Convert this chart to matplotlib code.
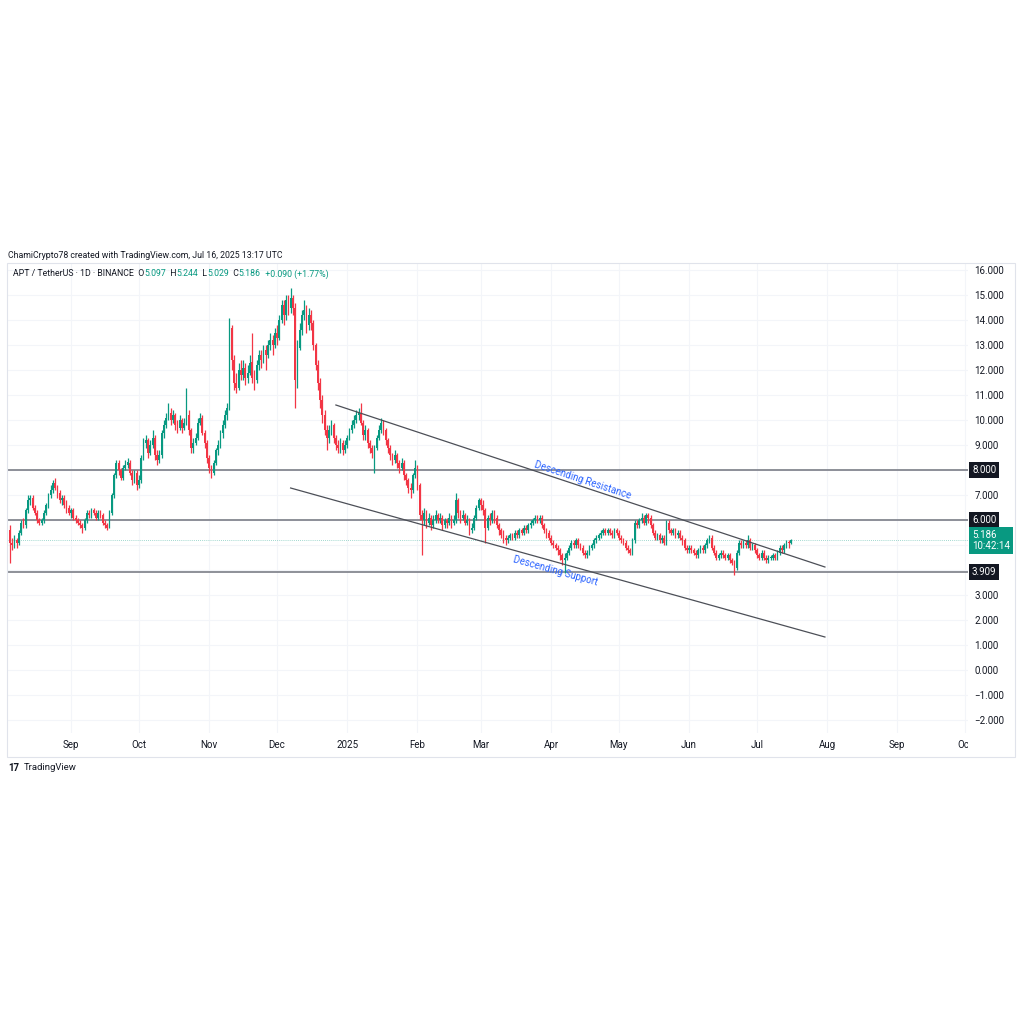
import numpy as np
import matplotlib.pyplot as plt
import matplotlib.dates as mdates
from matplotlib.patches import Rectangle
from matplotlib.ticker import FuncFormatter

plt.rcParams['font.family'] = ['Roboto', 'DejaVu Sans']

# ------------------------------- dados -------------------------------
first_day = '2024-08-05'
last_day = '2025-07-16'
first_open = 5.6

closes = [
    5.1, 5.0, 5.2, 5.1, 5.5, 5.9, 5.8, 6.4, 6.8, 6.9, 6.5, 6.3, 6.0, 5.9, 6.0, 6.3, 6.6, 7.0, 7.2, 7.5, 7.3, 7.1, 6.8, 6.9, 6.6, 6.5, 6.3,  # ago
    6.4, 6.1, 6.0, 5.9, 5.8, 5.7, 6.0, 6.3, 6.2, 6.4, 6.3, 6.1, 6.3, 6.2, 5.9, 5.8, 5.7, 6.3, 7.0, 7.8, 8.3, 8.0, 7.7, 8.1, 8.2, 8.3, 7.9, 7.6, 7.9, 7.4,  # set
    7.6, 8.5, 9.1, 9.2, 8.7, 9.0, 9.3, 8.6, 8.4, 8.6, 9.5, 9.8, 10.1, 10.3, 10.0, 10.2, 9.8, 9.7, 10.0, 9.7, 9.9, 10.2, 9.6, 8.9, 9.1, 9.3, 9.9, 10.1, 9.5, 9.1, 8.5,  # out
    8.1, 7.9, 8.3, 8.8, 9.0, 9.5, 9.8, 10.2, 10.5, 13.7, 12.4, 11.5, 11.3, 12.0, 11.8, 12.1, 11.7, 11.9, 12.3, 11.7, 11.6, 12.2, 12.6, 12.4, 12.8, 12.6, 13.0, 13.2, 13.0, 13.5,  # nov
    13.3, 14.0, 14.6, 14.2, 14.8, 14.5, 14.9, 14.5, 11.6, 12.9, 13.6, 14.2, 14.4, 13.8, 14.2, 13.9, 13.0, 12.2, 11.5, 10.8, 10.2, 9.6, 9.3, 9.6, 9.8, 9.3, 9.0, 8.9, 9.1, 8.8, 9.0,  # dez
    9.3, 9.6, 9.8, 10.0, 10.2, 10.3, 9.9, 9.4, 9.6, 9.1, 8.9, 8.7, 8.9, 9.3, 9.6, 9.9, 9.6, 9.2, 8.9, 8.6, 8.4, 8.6, 8.3, 8.1, 8.3, 7.8, 7.6, 7.3, 7.2, 7.8, 8.1,  # jan
    7.4, 6.2, 6.0, 6.3, 5.9, 6.1, 5.8, 6.0, 6.2, 6.0, 6.1, 5.8, 6.0, 5.9, 6.1, 5.9, 6.0, 6.8, 6.3, 6.1, 6.2, 5.9, 6.0, 5.6, 5.7, 6.1, 6.5, 6.8,  # fev
    6.6, 6.4, 5.7, 6.1, 6.0, 6.3, 6.1, 5.8, 5.6, 5.4, 5.3, 5.2, 5.3, 5.4, 5.3, 5.5, 5.4, 5.6, 5.5, 5.7, 5.6, 5.8, 5.9, 6.0, 6.1, 6.0, 6.1, 5.8, 5.6, 5.5, 5.3,  # mar
    5.1, 5.0, 4.9, 4.8, 4.6, 4.4, 4.5, 4.7, 4.9, 5.1, 5.0, 5.2, 5.0, 4.9, 4.7, 4.6, 4.7, 4.9, 5.0, 5.2, 5.3, 5.4, 5.5, 5.6, 5.5, 5.6, 5.5, 5.4, 5.6, 5.5,  # abr
    5.3, 5.2, 5.1, 4.9, 4.8, 4.7, 5.2, 5.9, 5.8, 6.0, 6.1, 5.9, 6.2, 6.1, 5.8, 5.5, 5.3, 5.4, 5.2, 5.3, 5.1, 5.9, 5.6, 5.5, 5.6, 5.4, 5.5, 5.3, 5.2, 4.9, 4.8,  # mai
    4.9, 4.8, 4.7, 4.6, 4.8, 4.9, 4.8, 5.0, 5.2, 5.3, 4.9, 4.7, 4.5, 4.6, 4.7, 4.6, 4.5, 4.6, 4.4, 4.3, 4.1, 4.7, 5.1, 5.0, 5.1, 5.0, 5.2, 4.9, 5.0, 4.8,  # jun
    4.6, 4.5, 4.7, 4.5, 4.4, 4.5, 4.5, 4.6, 4.5, 4.7, 4.9, 4.8, 5.0, 5.1, 5.097, 5.186,  # jul
]
highs = [
    5.8, 5.3, 5.4, 5.3, 5.6, 6.0, 6.1, 6.5, 7.0, 7.0, 7.0, 6.6, 6.4, 6.1, 6.1, 6.4, 6.7, 7.1, 7.4, 7.6, 7.7, 7.4, 7.2, 7.0, 7.0, 6.8, 6.6,
    6.5, 6.5, 6.2, 6.1, 6.0, 5.9, 6.1, 6.4, 6.4, 6.5, 6.5, 6.4, 6.4, 6.4, 6.3, 6.0, 5.9, 6.4, 7.1, 7.9, 8.4, 8.4, 8.1, 8.2, 8.4, 8.5, 8.4, 8.0, 8.0, 8.0,
    7.8, 8.6, 9.3, 9.4, 9.3, 9.2, 9.6, 9.4, 8.8, 8.8, 9.6, 10.0, 10.3, 10.7, 10.5, 10.4, 10.3, 10.0, 10.2, 10.1, 10.1, 11.3, 10.4, 9.7, 9.3, 9.5, 10.1, 10.3, 10.2, 9.6, 9.2,
    8.6, 8.2, 8.4, 8.9, 9.2, 9.6, 10.0, 10.4, 10.7, 14.1, 13.8, 12.6, 11.9, 12.3, 12.4, 12.4, 12.3, 12.2, 12.6, 13.5, 12.0, 12.4, 12.8, 12.8, 13.0, 13.0, 13.2, 13.5, 13.4, 13.7,
    13.8, 14.2, 14.8, 14.8, 15.0, 15.0, 15.3, 15.0, 14.7, 13.2, 13.9, 14.4, 14.8, 14.6, 14.5, 14.4, 14.0, 13.1, 12.4, 11.7, 11.0, 10.4, 9.8, 9.8, 10.0, 9.9, 9.4, 9.2, 9.3, 9.2, 9.2,
    9.4, 9.7, 10.0, 10.2, 10.4, 10.5, 10.7, 10.0, 9.8, 9.7, 9.2, 9.0, 9.0, 9.4, 9.8, 10.1, 10.0, 9.7, 9.3, 9.0, 8.7, 8.8, 8.7, 8.4, 8.5, 8.4, 7.9, 7.7, 7.5, 7.9, 8.4,
    8.2, 7.5, 6.4, 6.5, 6.4, 6.3, 6.2, 6.2, 6.4, 6.3, 6.3, 6.2, 6.1, 6.1, 6.3, 6.2, 6.2, 7.1, 6.9, 6.4, 6.4, 6.3, 6.2, 6.1, 5.9, 6.2, 6.6, 6.9,
    6.9, 6.8, 6.5, 6.2, 6.3, 6.4, 6.4, 6.2, 5.9, 5.7, 5.6, 5.4, 5.4, 5.5, 5.5, 5.6, 5.6, 5.7, 5.7, 5.8, 5.8, 5.9, 6.0, 6.1, 6.2, 6.2, 6.2, 6.2, 5.9, 5.7, 5.6,
    5.4, 5.2, 5.1, 5.0, 4.9, 4.7, 4.7, 4.8, 5.0, 5.2, 5.2, 5.3, 5.3, 5.1, 5.0, 4.8, 4.8, 5.0, 5.1, 5.3, 5.4, 5.5, 5.6, 5.7, 5.7, 5.7, 5.7, 5.6, 5.7, 5.7,
    5.6, 5.4, 5.3, 5.2, 5.0, 4.9, 5.3, 6.0, 6.0, 6.1, 6.3, 6.2, 6.3, 6.3, 6.2, 5.9, 5.6, 5.5, 5.5, 5.4, 5.4, 6.0, 6.0, 5.7, 5.7, 5.7, 5.6, 5.6, 5.4, 5.3, 5.0,
    5.0, 5.0, 4.9, 4.8, 4.9, 5.0, 5.0, 5.1, 5.3, 5.4, 5.4, 5.0, 4.8, 4.7, 4.8, 4.8, 4.7, 4.7, 4.7, 4.5, 4.4, 4.8, 5.2, 5.2, 5.2, 5.2, 5.4, 5.3, 5.1, 5.1,
    4.9, 4.7, 4.8, 4.8, 4.6, 4.6, 4.6, 4.7, 4.7, 4.8, 5.0, 5.0, 5.1, 5.2, 5.2, 5.244,
]
lows = [
    4.3, 4.8, 4.9, 4.9, 5.0, 5.4, 5.7, 5.7, 6.3, 6.6, 6.4, 6.2, 5.9, 5.8, 5.8, 5.9, 6.2, 6.5, 6.9, 7.1, 7.2, 6.9, 6.7, 6.6, 6.5, 6.3, 6.2,
    6.1, 6.0, 5.9, 5.8, 5.7, 5.5, 5.6, 5.9, 6.1, 6.1, 6.2, 6.0, 6.0, 6.1, 5.8, 5.7, 5.6, 5.7, 6.2, 6.9, 7.7, 7.8, 7.6, 7.6, 8.0, 8.1, 7.8, 7.4, 7.5, 7.2,
    7.3, 7.5, 8.4, 8.9, 8.5, 8.6, 8.9, 8.4, 8.2, 8.3, 8.5, 9.3, 9.7, 10.0, 9.8, 9.9, 9.6, 9.5, 9.6, 9.5, 9.6, 9.8, 9.4, 8.7, 8.7, 9.0, 9.2, 9.8, 9.4, 8.9, 8.3,
    7.9, 7.7, 7.8, 8.2, 8.6, 8.9, 9.3, 9.7, 10.0, 10.4, 12.0, 11.2, 11.1, 11.2, 11.6, 11.6, 11.4, 11.5, 11.8, 11.5, 11.2, 11.5, 12.0, 12.1, 12.3, 12.0, 12.5, 12.8, 12.6, 12.9,
    13.0, 13.2, 13.9, 13.8, 14.0, 14.2, 14.3, 14.2, 10.5, 11.3, 12.8, 13.4, 14.0, 13.5, 13.6, 13.6, 12.8, 12.0, 11.2, 10.5, 9.9, 9.4, 8.8, 9.1, 9.4, 9.1, 8.8, 8.7, 8.7, 8.6, 8.7,
    8.9, 9.2, 9.5, 9.7, 9.9, 10.0, 9.8, 9.2, 9.2, 8.9, 8.7, 8.5, 7.9, 8.8, 9.2, 9.5, 9.4, 9.0, 8.7, 8.4, 8.2, 8.3, 8.1, 7.9, 8.0, 7.6, 7.4, 7.1, 6.9, 7.1, 7.7,
    7.2, 6.0, 4.6, 5.8, 5.7, 5.8, 5.6, 5.7, 5.9, 5.9, 5.9, 5.6, 5.7, 5.7, 5.8, 5.7, 5.8, 5.9, 6.1, 5.9, 6.0, 5.8, 5.8, 5.4, 5.5, 5.6, 6.0, 6.4,
    6.4, 6.2, 5.1, 5.6, 5.8, 5.9, 5.9, 5.7, 5.4, 5.3, 5.1, 5.0, 5.1, 5.2, 5.2, 5.2, 5.3, 5.3, 5.4, 5.4, 5.5, 5.5, 5.7, 5.8, 5.9, 5.9, 5.9, 5.7, 5.5, 5.3, 5.2,
    5.0, 4.9, 4.8, 4.6, 4.4, 4.2, 3.9, 4.4, 4.6, 4.8, 4.9, 4.9, 4.9, 4.8, 4.6, 4.5, 4.5, 4.6, 4.8, 4.9, 5.1, 5.2, 5.3, 5.4, 5.4, 5.4, 5.4, 5.3, 5.3, 5.4,
    5.2, 5.1, 5.0, 4.8, 4.7, 4.6, 4.6, 5.1, 5.7, 5.7, 5.9, 5.8, 5.8, 5.9, 5.7, 5.4, 5.2, 5.2, 5.1, 5.1, 5.0, 5.0, 5.5, 5.4, 5.4, 5.3, 5.3, 5.2, 5.0, 4.8, 4.7,
    4.7, 4.7, 4.6, 4.5, 4.5, 4.7, 4.7, 4.7, 4.9, 5.1, 4.8, 4.6, 4.4, 4.4, 4.5, 4.5, 4.4, 4.4, 4.3, 4.2, 3.8, 4.0, 4.6, 4.9, 4.9, 4.9, 4.9, 4.8, 4.8, 4.7,
    4.5, 4.4, 4.4, 4.4, 4.3, 4.3, 4.4, 4.4, 4.4, 4.4, 4.6, 4.7, 4.7, 4.9, 4.9, 5.029,
]

levels = [8.0, 6.0, 3.909]
last_price = 5.186
countdown = '10:42:14'

resist_days = ['2024-12-27', '2025-07-31']
resist_vals = [10.6, 4.12]
support_days = ['2024-12-07', '2025-07-31']
support_vals = [7.28, 1.32]

price_ticks = list(range(-2, 17))
hidden_ticks = [8, 6, 5, 4]   # tapados pelas etiquetas

first_month = '2024-09'
last_month = '2025-10'
month_names = ['Jan', 'Feb', 'Mar', 'Apr', 'May', 'Jun', 'Jul', 'Aug', 'Sep', 'Oct', 'Nov', 'Dec']

GREEN = '#089981'
RED = '#f23645'
DARK = '#131722'
LEVEL = '#7b7e87'
TREND = '#4c4f57'
BLUE = '#2962ff'
GRID = '#f3f5f9'

credit = 'ChamiCrypto78 created with TradingView.com, Jul 16, 2025 13:17 UTC'
header = [('APT / TetherUS · 1D · BINANCE', DARK), ('  O', DARK), ('5.097', GREEN),
          ('  H', DARK), ('5.244', GREEN), ('  L', DARK), ('5.029', GREEN),
          ('  C', DARK), ('5.186', GREEN), ('  +0.090 (+1.77%)', GREEN)]

# ------------------------------- figura -------------------------------
W = 1024
fig = plt.figure(figsize=(10.24, 10.24), dpi=100)


def fx(px):
    return px / W


def fy(py):
    return 1 - py / W


ax = fig.add_axes([fx(8), fy(733), fx(968) - fx(8), fy(263) - fy(733)])
axd = fig.add_axes([fx(8), fy(757), fx(968) - fx(8), fy(733) - fy(757)], sharex=ax)

days = np.arange(np.datetime64(first_day), np.datetime64(last_day) + np.timedelta64(1, 'D'))
x = mdates.date2num(days)
c = np.array(closes)
h = np.array(highs)
l = np.array(lows)
o = np.r_[first_open, c[:-1]]
cores = np.where(c >= o, GREEN, RED)

ax.vlines(x, l, h, colors=cores, lw=0.9, zorder=3)
ax.bar(x, np.maximum(np.abs(c - o), 0.03), bottom=np.minimum(o, c), width=0.75,
       color=cores, lw=0, zorder=4)

ax.set_xlim(x[0] - 0.83, x[0] + 423.2)
ax.set_ylim(-2.52, 16.28)

# grade e eixo de preco
months = np.arange(np.datetime64(first_month), np.datetime64(last_month) + 1)
mx = mdates.date2num(months.astype('datetime64[D]'))
ax.set_xticks(mx)
ax.set_yticks(price_ticks)
ax.grid(color=GRID, lw=0.8, zorder=0)
ax.set_axisbelow(True)
for s in ax.spines.values():
    s.set_visible(False)
ax.yaxis.set_ticks_position('right')
ax.tick_params(axis='x', length=0, labelbottom=False)
ax.tick_params(axis='y', length=0, pad=4.5, labelsize=7, labelcolor=DARK)
ax.yaxis.set_major_formatter(FuncFormatter(
    lambda v, _: '' if v in hidden_ticks else f'{v:.3f}'.replace('-', '\u2212')))

# eixo de datas
axd.set_ylim(0, 1)
axd.tick_params(length=0, labelbottom=False, labelleft=False)
for s in axd.spines.values():
    s.set_visible(False)
for m, xm in zip(months, mx):
    mi = int(m.astype(int))
    lab = str(1970 + mi // 12) if mi % 12 == 0 else month_names[mi % 12]
    axd.text(xm, 0.5, lab, ha='center', va='center', fontsize=7, color=DARK,
             clip_on=True, transform=axd.get_xaxis_transform())

# niveis horizontais
for lv in levels:
    ax.axhline(lv, color=LEVEL, lw=1.2, zorder=2)
    ax.text(1.0042, lv, f'{lv:.3f}', transform=ax.get_yaxis_transform(), ha='left',
            va='center', fontsize=7, color='white', clip_on=False,
            bbox=dict(boxstyle='square,pad=0.3', fc=DARK, ec='none'))

ax.axhline(last_price, color=GREEN, lw=0.6, ls=(0, (1, 1.5)), alpha=0.5, zorder=2)
ax.text(1.0042, last_price, f'{last_price:.3f}\n{countdown}', transform=ax.get_yaxis_transform(),
        ha='left', va='center', fontsize=7, color='white', clip_on=False, linespacing=1.15,
        bbox=dict(boxstyle='square,pad=0.3', fc=GREEN, ec='none'))

# linhas de tendencia
rx = mdates.date2num(np.array(resist_days, dtype='datetime64[D]'))
sx = mdates.date2num(np.array(support_days, dtype='datetime64[D]'))
ax.plot(rx, resist_vals, color=TREND, lw=0.9, zorder=5)
ax.plot(sx, support_vals, color=TREND, lw=0.9, zorder=5)


def angulo(xs, ys):
    p = ax.transData.transform(np.column_stack([xs, ys]))
    return np.degrees(np.arctan2(p[1, 1] - p[0, 1], p[1, 0] - p[0, 0]))


xr = mdates.date2num(np.datetime64('2025-04-15'))
xs_ = mdates.date2num(np.datetime64('2025-04-03'))
ax.annotate('Descending Resistance', (xr, np.interp(xr, rx, resist_vals)), xytext=(0, 5),
            textcoords='offset points', rotation=angulo(rx, resist_vals), rotation_mode='anchor',
            ha='center', va='center', color=BLUE, fontsize=7, zorder=6)
ax.annotate('Descending Support', (xs_, np.interp(xs_, sx, support_vals)), xytext=(0, -6.5),
            textcoords='offset points', rotation=angulo(sx, support_vals), rotation_mode='anchor',
            ha='center', va='center', color=BLUE, fontsize=7, zorder=6)

# textos do topo
r = fig.canvas.get_renderer()


def linha(pecas, px, py, size, weight='normal'):
    xpos = fx(px)
    for txt, col in pecas:
        t = fig.text(xpos, fy(py), txt, color=col, fontsize=size, va='center', ha='left',
                     weight=weight)
        xpos += t.get_window_extent(renderer=r).width / fig.bbox.width


linha([(credit, DARK)], 8, 255, 6.3)
linha(header, 13, 274, 6.3)
linha([('17', DARK)], 8, 768, 7, weight='bold')
linha([('TradingView', DARK)], 24, 768, 6.8)

# moldura
fig.add_artist(Rectangle((fx(7), fy(757)), fx(1015) - fx(7), fy(263) - fy(757),
                         transform=fig.transFigure, fill=False, ec='#e0e3eb', lw=0.8))

fig.savefig('out.png', dpi=100, facecolor='white')
